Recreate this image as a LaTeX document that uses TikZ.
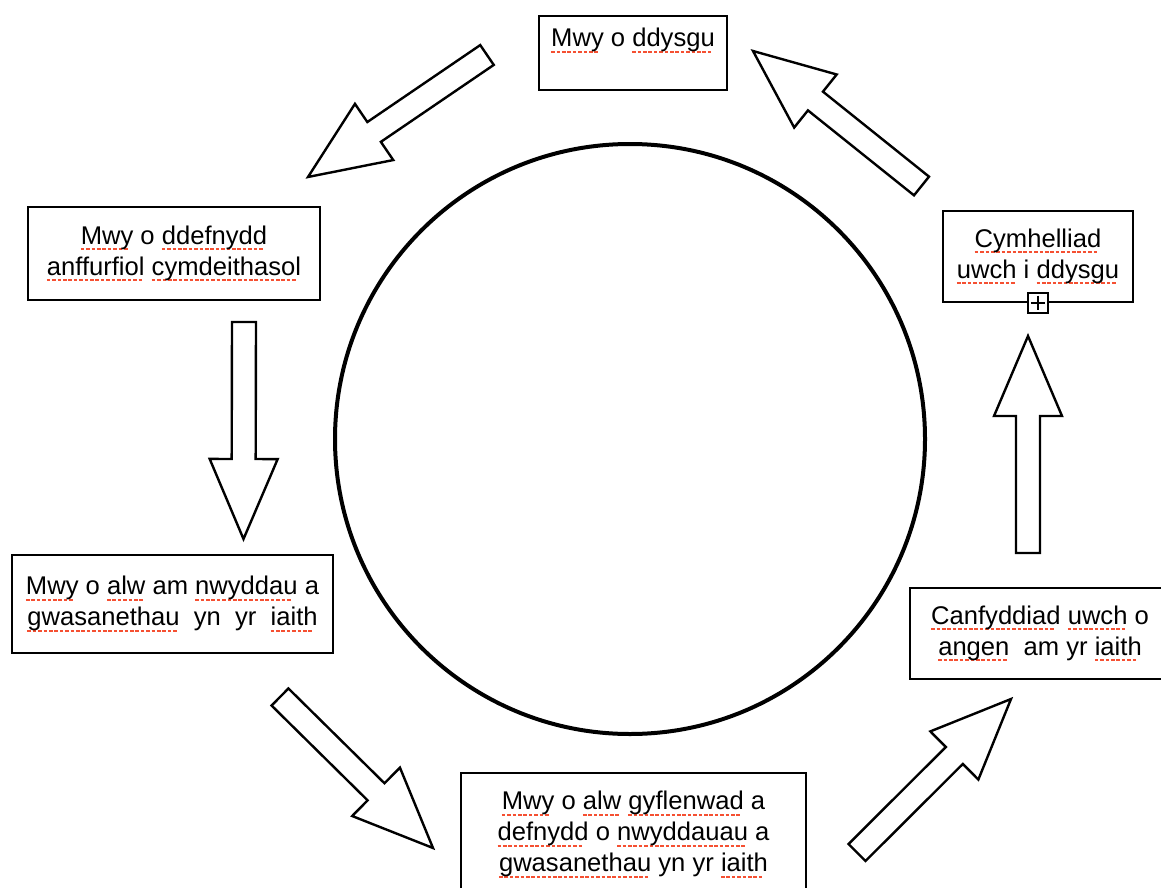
\documentclass[tikz,border=0pt]{standalone}
\usepackage{fontspec}
\setmainfont{Liberation Sans}
\usepackage{xcolor}
\usepackage{tikz}
\usetikzlibrary{
  positioning,
  calc
}
\definecolor{spellred}{RGB}{245,80,50}
% red dashes of the spell checker under a word
\newcommand\sillafu[1]{\leavevmode\setbox0\hbox{#1}%
  \rlap{\hbox to\wd0{\leaders\hbox{{\color{spellred}\rule[-3.2pt]{1.8pt}{1pt}}\kern0.9pt}\hfil}}\box0\relax}

\begin{document}
\begin{tikzpicture}[x=0.5pt,y=-0.5pt,
    box/.style={draw,line width=0.9pt,align=center,inner sep=2pt,
      font=\fontsize{12.8}{15.5}\selectfont},
    blockarrow/.style={draw,line width=1.2pt,line join=miter,fill=white}]
            \useasboundingbox (0,0) rectangle (1161,888);
            \node[circle,draw,line width=2pt,minimum size=295pt] (ring) at (630,439) {};
            % boxes round the ring
            \node[box,minimum width=94pt,minimum height=37pt] (dysgu) at (633,53)
              {\sillafu{Mwy} o \sillafu{ddysgu}\\ \mbox{}};
            \node[box,minimum width=146pt,minimum height=46.5pt] (defnydd) at (174,253.5)
              {\sillafu{Mwy} o \sillafu{ddefnydd}\\ \sillafu{anffurfiol} \sillafu{cymdeithasol}};
            \node[box,minimum width=160.5pt,minimum height=49pt] (galw) at (172.5,604)
              {\sillafu{Mwy} o \sillafu{alw} am \sillafu{nwyddau} a\\ \sillafu{gwasanethau}\ \ yn\ \ yr\ \ \sillafu{iaith}};
            \node[box,minimum width=172.5pt,minimum height=74pt] (gyflenwad) at (633.5,847)
              {\sillafu{Mwy} o \sillafu{alw} \sillafu{gyflenwad} a\\ \sillafu{defnydd} o \sillafu{nwyddauau} a\\ \sillafu{gwasanethau} yn yr \sillafu{iaith}\\ \mbox{}};
            \node[box,minimum width=130pt,minimum height=45.5pt] (canfyddiad) at (1040,633.5)
              {\sillafu{Canfyddiad} \sillafu{uwch} o\\ \sillafu{angen}\ \ am yr \sillafu{iaith}};
            \node[box,minimum width=95pt,minimum height=45.5pt] (cymhelliad) at (1038,256.5)
              {\sillafu{Cymhelliad}\\ \sillafu{uwch} i \sillafu{ddysgu}};
            \node[draw,line width=0.8pt,fill=white,minimum size=10pt,inner sep=0pt] (plus) at (cymhelliad.south) {};
            \draw[line width=0.7pt] ([yshift=-1.8pt]plus.north) -- ([yshift=1.8pt]plus.south);
            \draw[line width=0.7pt] ([xshift=1.8pt]plus.west) -- ([xshift=-1.8pt]plus.east);
            % block arrows, tail and tip
            \coordinate (a1s) at (487,55);     \coordinate (a1e) at (308,177);
            \coordinate (a2s) at (921.5,186);  \coordinate (a2e) at (753,51);
            \coordinate (a3s) at (244,322);    \coordinate (a3e) at (243.5,539);
            \coordinate (a4s) at (1028,553);   \coordinate (a4e) at (1028,336);
            \coordinate (a5s) at (280,697);    \coordinate (a5e) at (433,848);
            \coordinate (a6s) at (857,852.5);  \coordinate (a6e) at (1011,699);
            \foreach \s/\e in {a1s/a1e,a2s/a2e,a3s/a3e,a4s/a4e,a5s/a5e,a6s/a6e}{
              \coordinate (h) at ($(\e)!40pt!(\s)$);
              \draw[blockarrow] ($(\s)!6pt!90:(\e)$) -- ($(h)!6pt!90:(\e)$) -- ($(h)!17pt!90:(\e)$)
                -- (\e) -- ($(h)!17pt!-90:(\e)$) -- ($(h)!6pt!-90:(\e)$) -- ($(\s)!6pt!-90:(\e)$) -- cycle;
            }
        \end{tikzpicture}
\end{document}
